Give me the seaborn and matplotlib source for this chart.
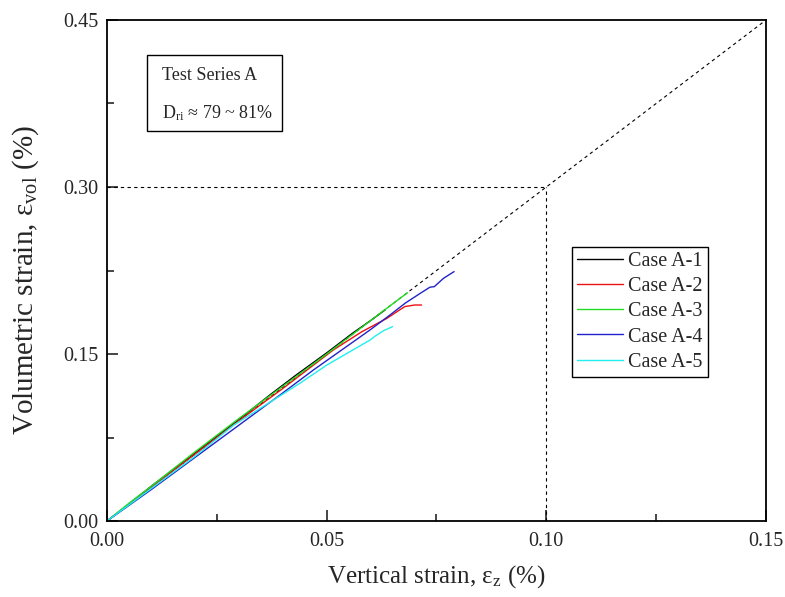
import matplotlib
matplotlib.use("Agg")
import matplotlib.pyplot as plt
import seaborn as sns
import pandas as pd
from matplotlib.patches import Rectangle
from matplotlib.ticker import MultipleLocator, FormatStrFormatter

# Données (déformations en %)
case_names = ['Case A-1', 'Case A-2', 'Case A-3', 'Case A-4', 'Case A-5']
case_colors = ['black', '#ee1111', '#22dd22', '#2222cc', '#22eeee']

a1_x = [0.0, 0.005, 0.010, 0.020, 0.030, 0.037, 0.043, 0.050, 0.056, 0.060, 0.0633]
a1_y = [0.0, 0.015, 0.031, 0.061, 0.091, 0.113, 0.131, 0.151, 0.169, 0.180, 0.1896]

a2_x = [0.0, 0.010, 0.020, 0.030, 0.040, 0.0515, 0.058, 0.0637, 0.066, 0.0678, 0.070, 0.0716]
a2_y = [0.0, 0.030, 0.060, 0.090, 0.119, 0.1536, 0.170, 0.182, 0.188, 0.1926, 0.194, 0.194]

a3_x = [0.0, 0.005, 0.010, 0.020, 0.030, 0.040, 0.050, 0.060, 0.065, 0.0684]
a3_y = [0.0, 0.016, 0.031, 0.062, 0.092, 0.121, 0.150, 0.180, 0.195, 0.205]

a4_x = [0.0, 0.010, 0.020, 0.030, 0.040, 0.047, 0.055, 0.060, 0.0644, 0.068, 0.0715, 0.0735, 0.0745, 0.0766, 0.079]
a4_y = [0.0, 0.028, 0.057, 0.086, 0.115, 0.1357, 0.158, 0.172, 0.185, 0.196, 0.205, 0.210, 0.2105, 0.218, 0.224]

a5_x = [0.0, 0.010, 0.020, 0.0288, 0.0439, 0.050, 0.0599, 0.061, 0.063, 0.065]
a5_y = [0.0, 0.029, 0.058, 0.0860, 0.1237, 0.140, 0.1626, 0.166, 0.171, 0.1746]

# Lignes de référence
ref_x = [0.0, 0.15]
ref_y = [0.0, 0.45]
guide_x = 0.10
guide_y = 0.30

frames = []
for name, xs, ys in zip(case_names, [a1_x, a2_x, a3_x, a4_x, a5_x], [a1_y, a2_y, a3_y, a4_y, a5_y]):
    frames.append(pd.DataFrame({'ez': xs, 'evol': ys, 'case': name}))
data = pd.concat(frames, ignore_index=True)

sns.set_style('ticks')
plt.rcParams['font.family'] = ['Liberation Serif', 'DejaVu Serif']
plt.rcParams['mathtext.fontset'] = 'custom'
plt.rcParams['mathtext.rm'] = 'Liberation Serif'
plt.rcParams['mathtext.it'] = 'Liberation Serif:italic'

fig = plt.figure(figsize=(7.85, 5.97), dpi=100)
ax = fig.add_axes([0.1363, 0.1273, 0.8395, 0.8392])

dash = (0, (3, 3))
ax.plot(ref_x, ref_y, color='black', lw=0.8, ls=dash, zorder=1)
ax.plot([0, guide_x], [guide_y, guide_y], color='black', lw=0.8, ls=dash, zorder=1)
ax.plot([guide_x, guide_x], [0, guide_y], color='black', lw=0.8, ls=dash, zorder=1)

sns.lineplot(data=data, x='ez', y='evol', hue='case', palette=case_colors,
             sort=False, estimator=None, lw=1.0, ax=ax, zorder=2)

ax.set_xlim(0, 0.15)
ax.set_ylim(0, 0.45)
ax.xaxis.set_major_locator(MultipleLocator(0.05))
ax.xaxis.set_minor_locator(MultipleLocator(0.025))
ax.yaxis.set_major_locator(MultipleLocator(0.15))
ax.yaxis.set_minor_locator(MultipleLocator(0.075))
ax.xaxis.set_major_formatter(FormatStrFormatter('%.2f'))
ax.yaxis.set_major_formatter(FormatStrFormatter('%.2f'))
ax.tick_params(which='both', direction='in', width=1.2, top=False, right=False, labelsize=14.5)
ax.tick_params(which='major', length=8)
ax.tick_params(which='minor', length=5)
ax.tick_params(axis='x', pad=8)
ax.tick_params(axis='y', pad=6)
for s in ax.spines.values():
    s.set_linewidth(1.3)
    s.set_color('black')

ax.set_xlabel(r'Vertical strain, $\mathrm{\varepsilon_{z}}$ (%)', fontsize=18, labelpad=9)
ax.set_ylabel(r'Volumetric strain, $\mathrm{\varepsilon_{vol}}$ (%)', fontsize=21)
ax.yaxis.set_label_coords(-0.100, 0.481)

leg = ax.legend(loc='upper left', bbox_to_anchor=(0.7056, 0.547), fontsize=14.5,
                frameon=True, fancybox=False, edgecolor='black', framealpha=1,
                handlelength=2.3, borderpad=0.25, borderaxespad=0, labelspacing=0.3,
                handletextpad=0.25)
leg.get_frame().set_linewidth(1.0)
for line in leg.get_lines():
    line.set_linewidth(1.0)

# Encadré d'information
ax.add_patch(Rectangle((0.0607, 0.778), 0.2050, 0.152, transform=ax.transAxes,
                       fill=False, edgecolor='black', lw=1.0))
ax.text(0.0835, 0.890, 'Test Series A', transform=ax.transAxes, fontsize=13, va='center')
ax.text(0.0835, 0.814, r'D$_{\mathrm{ri}}$ ≈ 79 ~ 81%', transform=ax.transAxes, fontsize=13, va='center')

fig.savefig('out.png', dpi=100)
